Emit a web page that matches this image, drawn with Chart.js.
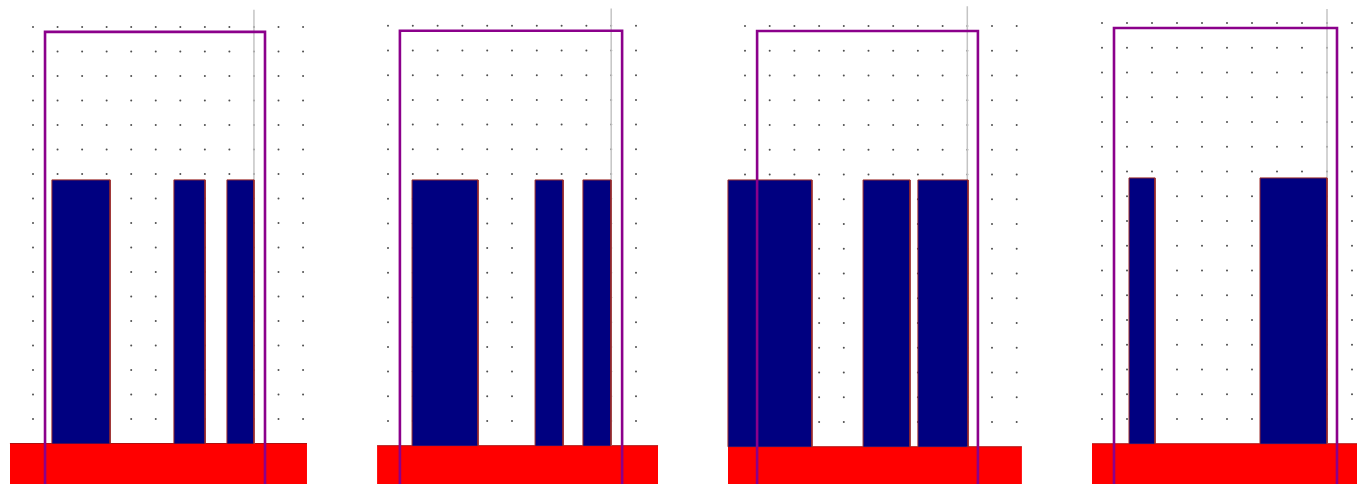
<!DOCTYPE html>
<html>
<head>
<meta charset="utf-8">
<script src="https://cdn.jsdelivr.net/npm/chart.js@4.4.0/dist/chart.umd.min.js"></script>
<style>
  html, body { margin: 0; padding: 0; background: #fff; overflow: hidden; }
  #content { position: relative; width: 1357px; height: 484px; }
  #content canvas { position: absolute; top: 0; }
</style>
</head>
<body>
<div id="content"></div>
<script>
// all values are in grid units (1 unit = distance between two dots), y = 0 is the lowest dot row
// one entry per panel, left to right
const gridCols = [11, 10, 11, 10];
const gridRows = 16;

const barStart = [[0.77, 5.74, 7.9], [0.97, 5.93, 7.86], [-0.69, 4.78, 7.0], [1.08, 6.32]];
const barEnd = [[3.14, 7.01, 9.0], [3.63, 7.06, 8.99], [2.71, 6.68, 9.03], [2.12, 9.0]];
const barTop = [9.76, 9.76, 9.78, 9.74];

const groundStart = [-0.94, -0.44, -0.69, -0.4];
const groundEnd = [11.16, 10.89, 11.21, 10.4];
const groundTop = -1;

const frameStart = [0.49, 0.48, 0.49, 0.48];
const frameEnd = [9.45, 9.44, 9.43, 9.4];
const frameTop = 15.8;
const frameBottom = -4;

const poleX = 9;
const poleTop = [16.7, 16.7, 16.8, 16.57];

// where each panel sits on the page (pixels)
const panelBoxes = [
  { left: 0, width: 345, originX: 33, originY: 419, stepX: 24.55, stepY: 24.5 },
  { left: 345, width: 355, originX: 388, originY: 421, stepX: 24.8, stepY: 24.7 },
  { left: 700, width: 360, originX: 745, originY: 422, stepX: 24.7, stepY: 24.75 },
  { left: 1060, width: 297, originX: 1102, originY: 419, stepX: 25.0, stepY: 24.75 }
];
const panelHeight = 484;

// draws the dotted grid at every whole grid value
const dotGrid = {
  id: 'dotGrid',
  beforeDatasetsDraw(chart, args, opts) {
    const ctx = chart.ctx;
    const xs = chart.scales.x;
    const ys = chart.scales.y;
    ctx.save();
    ctx.fillStyle = 'rgba(60,60,60,0.9)';
    for (let i = 0; i <= opts.cols; i++) {
      for (let j = 0; j <= opts.rows; j++) {
        ctx.beginPath();
        ctx.arc(xs.getPixelForValue(i), ys.getPixelForValue(j), 1, 0, Math.PI * 2);
        ctx.fill();
      }
    }
    ctx.restore();
  }
};

function appendPanel(p) {
  const box = panelBoxes[p];
  const canvas = document.createElement('canvas');
  canvas.width = box.width;
  canvas.height = panelHeight;
  canvas.style.left = box.left + 'px';
  document.getElementById('content').appendChild(canvas);

  let datasets = [];
  // purple frame - on top of everything
  datasets.push({
    data: [
      { x: frameStart[p], y: frameBottom },
      { x: frameStart[p], y: frameTop },
      { x: frameEnd[p], y: frameTop },
      { x: frameEnd[p], y: frameBottom }
    ],
    borderColor: '#8b008b',
    borderWidth: 2.6,
    fill: false,
    order: 0
  });
  // navy bars standing on the ground
  for (let i = 0; i < barStart[p].length; i++) {
    datasets.push({
      data: [
        { x: barStart[p][i], y: groundTop },
        { x: barStart[p][i], y: barTop[p] },
        { x: barEnd[p][i], y: barTop[p] },
        { x: barEnd[p][i], y: groundTop }
      ],
      borderColor: '#9a2a2a',
      borderWidth: 1,
      backgroundColor: '#000080',
      fill: { value: groundTop },
      order: 1
    });
  }
  // grey pole behind the bars
  datasets.push({
    data: [{ x: poleX, y: groundTop }, { x: poleX, y: poleTop[p] }],
    borderColor: '#c4c4c4',
    borderWidth: 1.5,
    fill: false,
    order: 2
  });
  // red ground
  datasets.push({
    data: [{ x: groundStart[p], y: groundTop }, { x: groundEnd[p], y: groundTop }],
    borderColor: '#b01010',
    borderWidth: 1,
    backgroundColor: '#ff0000',
    fill: 'start',
    order: 3
  });

  new Chart(canvas, {
    type: 'line',
    data: { datasets: datasets },
    options: {
      responsive: false,
      animation: false,
      events: [],
      layout: { padding: 0 },
      elements: { point: { radius: 0 }, line: { tension: 0, borderJoinStyle: 'miter' } },
      scales: {
        x: {
          type: 'linear',
          display: false,
          bounds: 'data',
          min: (box.left - box.originX) / box.stepX,
          max: (box.left + box.width - box.originX) / box.stepX
        },
        y: {
          type: 'linear',
          display: false,
          bounds: 'data',
          min: (box.originY - panelHeight) / box.stepY,
          max: box.originY / box.stepY
        }
      },
      plugins: {
        legend: { display: false },
        tooltip: { enabled: false },
        dotGrid: { cols: gridCols[p], rows: gridRows }
      }
    },
    plugins: [dotGrid]
  });
}

for (let p = 0; p < panelBoxes.length; p++) {
  appendPanel(p);
}
</script>
</body>
</html>
